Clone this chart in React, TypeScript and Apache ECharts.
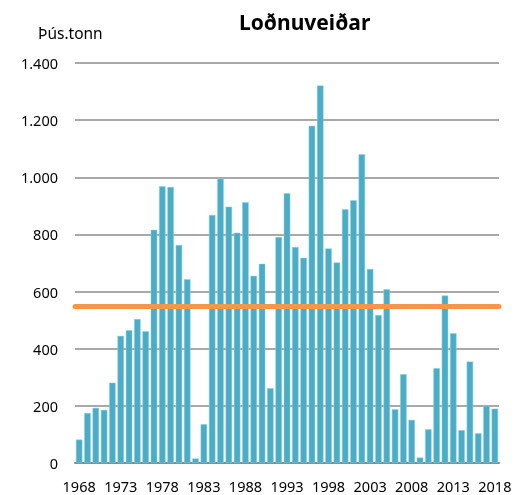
import React, { useEffect, useRef } from "react";
import * as echarts from "echarts";

const years: string[] = [];
for (let y = 1968; y <= 2018; y++) years.push(String(y));

const catch_: number[] = [
  82, 175, 193, 186, 281, 445, 465, 504, 461, 816,
  969, 966, 763, 643, 16, 136, 868, 995, 897, 806,
  913, 655, 697, 262, 791, 944, 756, 718, 1180, 1321,
  751, 702, 888, 920, 1081, 679, 518, 608, 188, 311,
  151, 19, 118, 332, 586, 454, 115, 355, 104, 200,
  190,
];

const averageLevel = 550;
const yTicks = { min: 0, max: 1400, interval: 200 };

function fmt(v: number): string {
  return String(v).replace(/\B(?=(\d{3})+(?!\d))/g, ".");
}

export default function App() {
  const ref = useRef<HTMLDivElement>(null);
  useEffect(() => {
    if (!ref.current) return;
    const chart = echarts.init(ref.current, null, { renderer: "svg" });
    const font = "'Noto Sans', 'Liberation Sans', sans-serif";
    chart.setOption({
      animation: false,
      title: {
        text: "Loðnuveiðar",
        left: 234,
        top: 6,
        textStyle: { fontFamily: font, fontSize: 21, fontWeight: "bold", color: "#000" },
      },
      graphic: [
        {
          type: "text",
          left: 38,
          top: 25,
          style: { text: "Þús.tonn", fontFamily: font, fontSize: 15.5, fill: "#000" },
        },
      ],
      grid: { left: 75, right: 27, top: 63, bottom: 32, containLabel: false },
      xAxis: {
        type: "category",
        data: years,
        boundaryGap: true,
        axisLine: { lineStyle: { color: "#888", width: 2 } },
        axisTick: { show: false },
        axisLabel: {
          interval: 4,
          margin: 15,
          fontFamily: font,
          fontSize: 14.5,
          color: "#000",
        },
      },
      yAxis: {
        type: "value",
        min: yTicks.min,
        max: yTicks.max,
        interval: yTicks.interval,
        axisLine: { show: false },
        axisTick: { show: false },
        splitLine: { lineStyle: { color: "#8c8c8c", width: 1.5 } },
        axisLabel: {
          margin: 17,
          fontFamily: font,
          fontSize: 14.5,
          color: "#000",
          formatter: (v: number) => fmt(v),
        },
      },
      series: [
        {
          type: "bar",
          data: catch_,
          barCategoryGap: "22%",
          itemStyle: { color: "#4bacc6", borderColor: "#8fd0e0", borderWidth: 0.5 },
          markLine: {
            silent: true,
            symbol: "none",
            label: { show: false },
            lineStyle: { color: "#f79646", width: 5, type: "solid", cap: "round" },
            data: [{ yAxis: averageLevel }],
          },
        },
      ],
    });
    return () => chart.dispose();
  }, []);
  return (
    <div
      ref={ref}
      style={{ position: "fixed", left: 0, top: 0, width: 526, height: 495 }}
    />
  );
}
